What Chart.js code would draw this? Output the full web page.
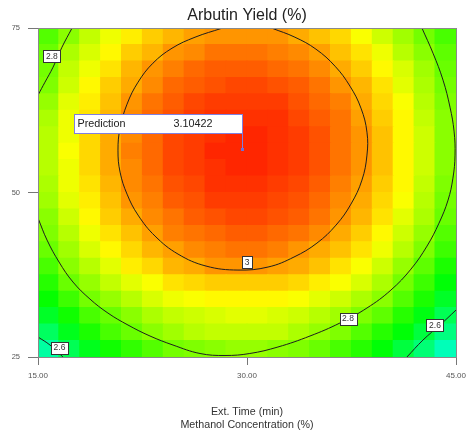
<!DOCTYPE html>
<html>
<head>
<meta charset="utf-8">
<script src="https://cdn.jsdelivr.net/npm/chart.js@4.4.1/dist/chart.umd.min.js"></script>
<style>
  html, body { margin: 0; padding: 0; background: #fff; }
</style>
</head>
<body>
<canvas id="chart" width="469" height="447"></canvas>
<script>
const FONT = '"Liberation Sans", Arial, sans-serif';

// grid cell centres (Ext. Time on x, Methanol conc. on y, rows listed top -> bottom)
const timeCells = [15.75, 17.25, 18.75, 20.25, 21.75, 23.25, 24.75, 26.25, 27.75, 29.25,
                   30.75, 32.25, 33.75, 35.25, 36.75, 38.25, 39.75, 41.25, 42.75, 44.25];
const methanolCells = [73.75, 71.25, 68.75, 66.25, 63.75, 61.25, 58.75, 56.25, 53.75, 51.25,
                       48.75, 46.25, 43.75, 41.25, 38.75, 36.25, 33.75, 31.25, 28.75, 26.25];
const cellHalfHeight = 1.25;

// arbutin yield (%)
const yieldGrid = [
  [2.76,2.81,2.86,2.90,2.93,2.96,2.98,3.00,3.01,3.01,3.01,3.01,2.99,2.97,2.95,2.91,2.87,2.83,2.79,2.75],
  [2.78,2.84,2.88,2.92,2.96,2.98,3.01,3.02,3.04,3.04,3.04,3.03,3.02,3.00,2.97,2.94,2.90,2.85,2.81,2.77],
  [2.79,2.86,2.90,2.94,2.98,3.01,3.03,3.05,3.06,3.06,3.06,3.05,3.04,3.02,2.99,2.96,2.92,2.88,2.83,2.78],
  [2.80,2.87,2.92,2.96,2.99,3.02,3.05,3.06,3.07,3.08,3.08,3.07,3.06,3.04,3.01,2.98,2.94,2.89,2.84,2.79],
  [2.82,2.89,2.93,2.97,3.01,3.04,3.06,3.08,3.09,3.09,3.09,3.09,3.07,3.05,3.03,2.99,2.95,2.91,2.85,2.80],
  [2.84,2.90,2.94,2.98,3.02,3.05,3.07,3.09,3.10,3.10,3.10,3.10,3.08,3.06,3.04,3.00,2.96,2.92,2.86,2.81],
  [2.85,2.90,2.95,2.99,3.02,3.05,3.08,3.09,3.10,3.11,3.11,3.10,3.09,3.07,3.04,3.01,2.97,2.92,2.87,2.81],
  [2.85,2.91,2.95,2.99,3.03,3.05,3.08,3.09,3.11,3.11,3.11,3.10,3.09,3.07,3.04,3.01,2.97,2.92,2.87,2.81],
  [2.85,2.90,2.95,2.99,3.02,3.05,3.08,3.09,3.10,3.11,3.11,3.10,3.09,3.07,3.04,3.01,2.97,2.92,2.87,2.81],
  [2.84,2.90,2.94,2.98,3.02,3.04,3.07,3.08,3.10,3.10,3.10,3.09,3.08,3.06,3.03,3.00,2.96,2.92,2.86,2.80],
  [2.83,2.89,2.93,2.97,3.01,3.03,3.06,3.07,3.09,3.09,3.09,3.08,3.07,3.05,3.02,2.99,2.95,2.91,2.85,2.79],
  [2.81,2.87,2.92,2.96,2.99,3.02,3.04,3.06,3.07,3.08,3.08,3.07,3.06,3.04,3.01,2.98,2.94,2.89,2.84,2.78],
  [2.80,2.85,2.90,2.94,2.97,3.00,3.03,3.04,3.05,3.06,3.06,3.05,3.04,3.02,2.99,2.96,2.92,2.87,2.82,2.76],
  [2.78,2.83,2.88,2.92,2.95,2.98,3.00,3.02,3.03,3.04,3.04,3.03,3.01,2.99,2.97,2.94,2.90,2.85,2.80,2.74],
  [2.75,2.81,2.85,2.89,2.93,2.95,2.98,2.99,3.01,3.01,3.01,3.00,2.99,2.97,2.94,2.91,2.87,2.82,2.77,2.71],
  [2.72,2.78,2.82,2.86,2.89,2.91,2.94,2.95,2.96,2.96,2.96,2.96,2.95,2.93,2.91,2.88,2.84,2.79,2.74,2.68],
  [2.69,2.74,2.79,2.82,2.85,2.88,2.90,2.91,2.92,2.92,2.92,2.92,2.91,2.89,2.87,2.84,2.81,2.76,2.71,2.65],
  [2.65,2.70,2.75,2.78,2.81,2.84,2.86,2.87,2.88,2.89,2.89,2.88,2.87,2.85,2.83,2.80,2.77,2.72,2.67,2.61],
  [2.60,2.66,2.71,2.75,2.78,2.81,2.83,2.85,2.86,2.86,2.86,2.86,2.84,2.82,2.80,2.76,2.72,2.68,2.63,2.57],
  [2.54,2.61,2.66,2.70,2.73,2.76,2.79,2.80,2.81,2.82,2.82,2.81,2.80,2.78,2.75,2.72,2.68,2.63,2.58,2.52]
];

// contour lines [time, methanol]
const contour3 = [[28.21,75.0],[26.27,73.63],[24.62,71.96],[23.25,69.68],[22.18,66.79],[21.39,63.45],
  [20.89,59.80],[20.74,56.46],[20.89,53.12],[21.39,49.77],[22.18,46.58],[23.40,43.39],[25.05,40.65],
  [27.06,38.83],[29.35,38.22],[31.51,38.68],[33.37,40.20],[35.02,42.32],[36.39,45.06],[37.46,48.25],
  [38.25,51.90],[38.61,55.70],[38.61,59.19],[38.18,62.84],[37.39,66.19],[36.32,69.22],[34.95,71.81],
  [33.44,73.63],[31.79,75.0]];
const contour28Top = [[17.44,75.0],[16.72,72.11],[16.08,69.07],[15.50,66.79],[15.0,64.82]];
const contour28Main = [[42.56,75.0],[43.35,71.20],[44.07,67.10],[44.57,62.99],[44.86,59.35],[44.93,55.70],
  [44.78,52.20],[44.43,48.86],[43.78,45.36],[42.92,41.87],[41.77,38.37],[40.33,35.18],[38.61,32.45],
  [36.67,30.17],[34.52,28.19],[32.22,26.52],[30.20,25.53],[28.42,25.23],[26.63,25.53],[24.69,26.82],
  [23.04,28.19],[21.46,29.86],[20.02,31.68],[18.73,33.81],[17.51,36.40],[16.51,39.44],[15.65,42.78],
  [15.0,46.12]];
const contour26Left = [[15.0,28.04],[15.86,26.82],[16.79,25.0]];
const contour26Right = [[45.0,32.14],[43.85,29.86],[42.63,27.58],[41.48,25.0]];
const contourLabels = [[16.0,70.74,'2.8'],[30.0,39.44,'3'],[37.25,30.85,'2.8'],[43.49,29.86,'2.6'],[16.54,26.44,'2.6']];

const prediction = {time: 29.64, methanol: 56.61, label: 'Prediction', value: '3.10422'};

const xTickValues = [15, 30, 45];
const xTickLabels = ['15.00', '30.00', '45.00'];
const yTickValues = [25, 50, 75];
const yTickLabels = ['25', '50', '75'];

function yieldColor(v) {
  const stops = [[0,0,255],[0,255,255],[0,255,0],[255,255,0],[255,0,0]];
  let t = (v - 2.227) / (3.144 - 2.227);
  t = Math.max(0, Math.min(1, t)) * 4;
  const i = Math.min(3, Math.floor(t)), f = t - i;
  const a = stops[i], b = stops[i + 1];
  const c = a.map((ch, k) => Math.round(ch + (b[k] - ch) * f));
  return 'rgb(' + c.join(',') + ')';
}

const heatCells = [];
const heatColors = [];
methanolCells.forEach((m, r) => {
  timeCells.forEach((t, c) => {
    heatCells.push({x: t, y: [m - cellHalfHeight, m + cellHalfHeight]});
    heatColors.push(yieldColor(yieldGrid[r][c]));
  });
});

const pts = arr => arr.map(p => ({x: p[0], y: p[1]}));
const contourSet = arr => ({
  type: 'line', data: pts(arr), borderColor: '#1e1e1e', borderWidth: 1,
  pointRadius: 0, tension: 0.4, fill: false, order: 0
});

const overlay = {
  id: 'overlay',
  afterDatasetsDraw(chart) {
    const {ctx, chartArea: a, scales: {x, y}} = chart;
    ctx.save();
    ctx.strokeStyle = '#8a8a8a';
    ctx.lineWidth = 1;
    ctx.strokeRect(Math.round(a.left) + 0.5, Math.round(a.top) + 0.5,
      Math.round(a.right - a.left), Math.round(a.bottom - a.top));

    ctx.font = '8.5px ' + FONT;
    ctx.textAlign = 'center';
    ctx.textBaseline = 'middle';
    contourLabels.forEach(([lx, ly, txt]) => {
      const px = x.getPixelForValue(lx), py = y.getPixelForValue(ly);
      const w = Math.round(ctx.measureText(txt).width + 5), h = 12;
      const bx = Math.round(px - w / 2) + 0.5, by = Math.round(py - h / 2) + 0.5;
      ctx.fillStyle = '#fff';
      ctx.fillRect(bx, by, w, h);
      ctx.strokeStyle = '#333';
      ctx.strokeRect(bx, by, w, h);
      ctx.fillStyle = '#333';
      ctx.fillText(txt, px, py + 0.5);
    });

    // prediction flag
    const px = Math.round(x.getPixelForValue(prediction.time)) + 0.5;
    const py = Math.round(y.getPixelForValue(prediction.methanol));
    ctx.strokeStyle = '#7f7fe0';
    ctx.beginPath();
    ctx.moveTo(px, py - 15);
    ctx.lineTo(px, py);
    ctx.stroke();
    ctx.fillStyle = '#6f6fd8';
    ctx.fillRect(px - 1.5, py - 1, 3, 3);
    ctx.fillStyle = '#fff';
    ctx.fillRect(px - 168, py - 34.5, 168, 19);
    ctx.strokeRect(px - 168, py - 34.5, 168, 19);
    ctx.fillStyle = '#222';
    ctx.font = '10.8px ' + FONT;
    ctx.textAlign = 'left';
    ctx.fillText(prediction.label, px - 165, py - 24.5);
    ctx.fillText(prediction.value, px - 69, py - 24.5);
    ctx.restore();
  }
};

new Chart(document.getElementById('chart'), {
  type: 'bar',
  data: {
    datasets: [
      contourSet(contour3),
      contourSet(contour28Top),
      contourSet(contour28Main),
      contourSet(contour26Left),
      contourSet(contour26Right),
      {
        label: 'Arbutin Yield (%)',
        data: heatCells,
        backgroundColor: heatColors,
        borderWidth: 0,
        barPercentage: 1,
        categoryPercentage: 1,
        inflateAmount: 0.6,
        order: 10
      }
    ]
  },
  options: {
    responsive: false,
    animation: false,
    devicePixelRatio: 1,
    layout: {padding: {left: 0, right: 13, top: 0, bottom: 0}},
    plugins: {
      legend: {display: false},
      tooltip: {enabled: false},
      title: {
        display: true,
        text: 'Arbutin Yield (%)',
        fullSize: false,
        color: '#222',
        font: {family: FONT, size: 16, weight: 'normal'},
        padding: {top: 6, bottom: 3}
      }
    },
    scales: {
      x: {
        type: 'linear',
        min: 15,
        max: 45,
        offset: false,
        afterBuildTicks: s => { s.ticks = xTickValues.map(v => ({value: v})); },
        afterFit: s => { s.height = 90; s.paddingLeft = 0; s.paddingRight = 10; },
        ticks: {
          autoSkip: false, maxRotation: 0, padding: 6, color: '#555',
          font: {family: FONT, size: 8},
          callback: (v, i) => xTickLabels[i]
        },
        grid: {drawOnChartArea: false, offset: false, tickLength: 8, color: '#777'},
        border: {color: '#777'},
        title: {
          display: true,
          text: ['Ext. Time (min)', 'Methanol Concentration (%)'],
          color: '#333',
          font: {family: FONT, size: 10.7, lineHeight: 1.2},
          padding: {top: 0, bottom: 15.6}
        }
      },
      y: {
        type: 'linear',
        min: 25,
        max: 75,
        afterBuildTicks: s => { s.ticks = yTickValues.map(v => ({value: v})); },
        afterFit: s => { s.width = 38; },
        ticks: {
          autoSkip: false, padding: 8, color: '#555',
          font: {family: FONT, size: 7.5},
          callback: (v, i) => yTickLabels[i]
        },
        grid: {drawOnChartArea: false, tickLength: 10, color: '#777'},
        border: {color: '#888'}
      }
    }
  },
  plugins: [overlay]
});
</script>
</body>
</html>
